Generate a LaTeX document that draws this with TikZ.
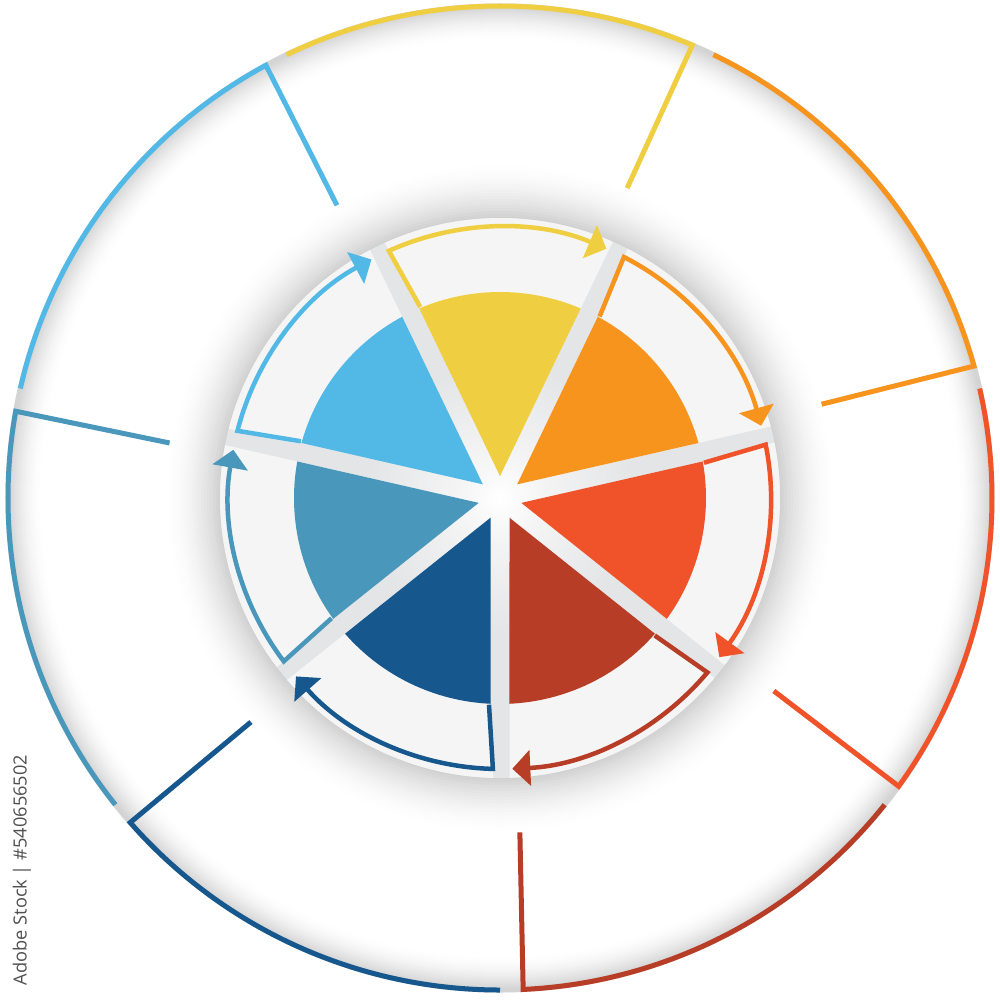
\documentclass[tikz,border=0pt]{standalone}
\usepackage{fontspec}
\newfontfamily\wmfont{Open Sans}
\usetikzlibrary{arrows.meta,calc}
\definecolor{cY}{HTML}{EFCF41}
\definecolor{cO}{HTML}{F7941E}
\definecolor{cR}{HTML}{F0532A}
\definecolor{cDR}{HTML}{B83D27}
\definecolor{cDB}{HTML}{16578D}
\definecolor{cMB}{HTML}{4A97BC}
\definecolor{cLB}{HTML}{52B9E6}
\definecolor{segc}{HTML}{F5F5F5}
\definecolor{gapc}{HTML}{E4E5E6}
\definecolor{gapl}{HTML}{F4F4F5}
\definecolor{sha}{HTML}{D0D0D0}
\definecolor{rimb}{HTML}{D4D4D4}
\definecolor{wmc}{HTML}{505050}
\pgfdeclareradialshading{innerdisc}{\pgfpoint{0bp}{0bp}}{color(0bp)=(white); color(4bp)=(gapl); color(12bp)=(gapc); color(50bp)=(gapc)}
\tikzset{
  outerline/.style={line width=5pt, line join=miter},
  innerline/.style={line width=4.5pt, line join=miter, -{Triangle[length=18pt,width=35pt]}},
}
\begin{document}
\begin{tikzpicture}[x=1pt,y=1pt]
\useasboundingbox (-500,-501) rectangle (500,498);
\fill[white] (-500,-501) rectangle (500,498);
% rim shading inside the outer ring
\fill[rimb] (0,0) circle[radius=494.5];
\foreach \r in {492,490,...,460}{
  \pgfmathsetmacro\p{100*((\r-460)/32)^1.6}
  \fill[rimb!\p!white] (0,0) circle[radius=\r];
}
% shadow around the inner disc
\foreach \r in {338,335,...,281}{
  \pgfmathsetmacro\p{100*((338-\r)/57)^1.8}
  \fill[sha!\p!white] (0,0) circle[radius=\r];
}
% outer ring outlines
\foreach \b/\c in {-90/cDR, -38.5714/cR, 12.8571/cO, 64.2857/cY, 115.7143/cLB, 167.1429/cMB, 218.5714/cDB}{
  \pgfmathsetmacro\bb{\b+51.4286}
  \pgfmathsetmacro\bc{\b+2.7}
  \pgfmathsetmacro\bi{\b+3.4}
  \draw[outerline, draw=\c] (\bb:492) arc[start angle=\bb, end angle=\bc, radius=492] -- (\bi:335);
}
% inner disc
\shade[shading=innerdisc] (0,0) circle[radius=280];
\foreach \b/\c in {-90/cDR, -38.5714/cR, 12.8571/cO, 64.2857/cY, 115.7143/cLB, 167.1429/cMB, 218.5714/cDB}{
  \pgfmathsetmacro\bb{\b+51.4286}
  \pgfmathsetmacro\m{\b+25.7143}
  \pgfmathsetmacro\aoA{\b+1.95}
  \pgfmathsetmacro\aoC{\bb-1.44}
  \pgfmathsetmacro\aoB{\bb-1.5}
  \pgfmathsetmacro\lin{\bb-3.05}
  \pgfmathsetmacro\pA{\b+2.64}
  \pgfmathsetmacro\pB{\bb-2.64}
  \pgfmathsetmacro\ae{\b+2.6}
  \fill[segc] (\m:21.9) -- (\aoA:280) arc[start angle=\aoA, end angle=\aoC, radius=280] -- (\aoB:271) -- (\lin:207) -- cycle;
  \fill[\c] (\m:21.9) -- (\pA:206) arc[start angle=\pA, end angle=\pB, radius=206] -- cycle;
  \draw[innerline, draw=\c] (\lin:207) -- (\aoB:271) arc[start angle=\aoB, end angle=\ae, radius=271];
}
\node[rotate=90, text=wmc, font=\wmfont\fontsize{18.2}{18.2}\selectfont, inner sep=0pt] (wm) at (-478,-372) {Adobe Stock | \#540656502};
\end{tikzpicture}
\end{document}
